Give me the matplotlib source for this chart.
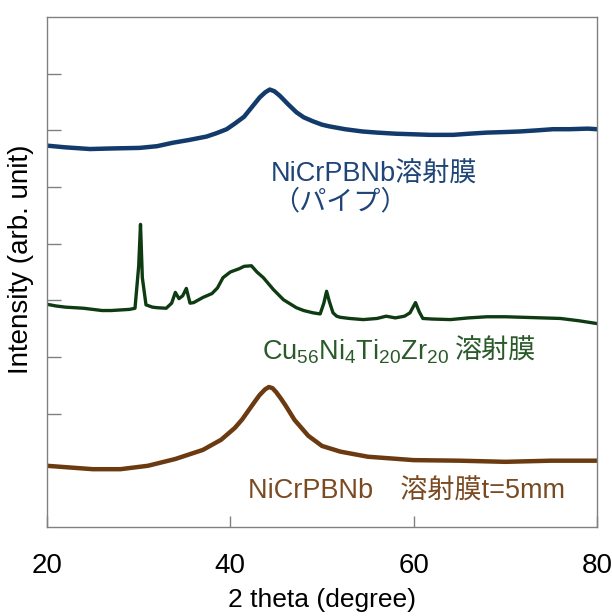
import matplotlib
matplotlib.use("Agg")
import matplotlib.pyplot as plt

plt.rcParams['font.family'] = ['Liberation Sans', 'Noto Sans CJK JP', 'DejaVu Sans']
plt.rcParams['mathtext.fontset'] = 'custom'
plt.rcParams['mathtext.rm'] = 'Liberation Sans'
plt.rcParams['mathtext.default'] = 'regular'

# NiCrPBNb sprayed film (pipe) - top trace
blue_x = [20, 22, 24.7, 27, 30.1, 32, 33.7, 35.5, 37.4, 38.5, 39.6, 40.5, 41.5, 42.3,
          43.2, 43.8, 44.3, 44.8, 45.4, 46.3, 47.2, 48, 49, 50, 50.8, 52.5, 54.4, 56,
          58.1, 60, 61.8, 64.3, 66, 68, 70, 71.6, 73.5, 75.2, 77, 79, 80]
blue_y = [6.73, 6.70, 6.67, 6.68, 6.69, 6.72, 6.78, 6.83, 6.89, 6.95, 7.02, 7.12, 7.24, 7.40,
          7.58, 7.67, 7.72, 7.69, 7.61, 7.46, 7.32, 7.23, 7.16, 7.10, 7.07, 7.02, 6.98, 6.96,
          6.94, 6.93, 6.92, 6.92, 6.94, 6.96, 6.97, 6.98, 7.00, 7.02, 7.02, 7.03, 7.02]

# Cu56Ni4Ti20Zr20 sprayed film - middle trace
green_x = [20, 21, 22, 23, 24, 25, 26, 27, 28, 29, 29.6, 30.0, 30.2, 30.4, 30.8, 31.5, 32,
           33, 33.6, 34.0, 34.4, 34.8, 35.2, 35.6, 36, 37, 38, 38.6, 39.2, 40, 41, 41.5,
           42.3, 42.9, 43.6, 44.7, 45.8, 47.2, 48, 49, 49.8, 50.2, 50.5, 50.8, 51.2, 51.6,
           52, 53, 54.5, 56, 57, 58, 59, 59.6, 60.2, 60.6, 61, 62, 64, 66, 68, 70, 72, 74,
           76, 78, 80]
green_y = [3.93, 3.90, 3.88, 3.87, 3.86, 3.84, 3.82, 3.82, 3.83, 3.84, 3.86, 4.60, 5.34, 4.40,
           3.92, 3.88, 3.87, 3.86, 3.95, 4.14, 4.03, 4.08, 4.21, 3.95, 3.96, 4.05, 4.12, 4.22,
           4.40, 4.50, 4.56, 4.60, 4.61, 4.50, 4.40, 4.19, 4.01, 3.87, 3.82, 3.78, 3.76, 3.95,
           4.16, 3.98, 3.78, 3.72, 3.70, 3.68, 3.66, 3.68, 3.72, 3.69, 3.72, 3.78, 3.96, 3.80,
           3.68, 3.67, 3.66, 3.69, 3.71, 3.71, 3.70, 3.69, 3.68, 3.64, 3.59]

# NiCrPBNb sprayed film t=5mm - bottom trace
brown_x = [20, 25, 28, 31, 34, 37, 39, 40.5, 41.3, 42, 42.7, 43.2, 43.8, 44.2, 44.6, 45,
           45.5, 46, 47, 48.5, 50, 52, 55, 60, 65, 70, 75, 80]
brown_y = [1.08, 1.02, 1.02, 1.08, 1.20, 1.36, 1.54, 1.75, 1.90, 2.06, 2.22, 2.33, 2.43,
           2.47, 2.45, 2.38, 2.27, 2.15, 1.89, 1.61, 1.43, 1.33, 1.24, 1.18, 1.17, 1.15,
           1.17, 1.17]

x_ticks = [20, 40, 60, 80]
y_ticks = [2, 3, 4, 5, 6, 7, 8]

c_blue = '#123a6b'
c_green = '#0e3b12'
c_brown = '#6b3a10'

fig = plt.figure(figsize=(6.12, 6.16), dpi=100)
ax = fig.add_axes([0.0768, 0.1445, 0.8987, 0.8279])

ax.plot(blue_x, blue_y, color=c_blue, lw=3.2, solid_joinstyle='round')
ax.plot(green_x, green_y, color=c_green, lw=2.4, solid_joinstyle='round')
ax.plot(brown_x, brown_y, color=c_brown, lw=3.2, solid_joinstyle='round')

ax.set_xlim(20, 80)
ax.set_ylim(0, 9)
ax.set_xticks(x_ticks)
ax.set_yticks(y_ticks)
ax.set_yticklabels([])
ax.tick_params(axis='x', direction='in', length=8, color='#808080', width=1, labelsize=20, pad=19)
ax.tick_params(axis='y', direction='in', length=10, color='#808080', width=1)
for s in ax.spines.values():
    s.set_color('#808080')
    s.set_linewidth(1)

ax.set_xlabel('2 theta (degree)', fontsize=19, labelpad=6)
ax.set_ylabel('Intensity (arb. unit)', fontsize=20)
ax.yaxis.set_label_coords(-0.024, 0.525)

ax.text(44.4, 6.22, 'NiCrPBNb溶射膜', color='#1f4478', fontsize=19.5, ha='left', va='center')
ax.text(44.6, 5.72, '（パイプ）', color='#1f4478', fontsize=19.5, ha='left', va='center')
t_cu = ax.text(43.45, 3.10, 'Cu$_{56}$Ni$_{4}$Ti$_{20}$Zr$_{20}$', color='#2a5a2a',
               fontsize=19.5, ha='left', va='center')
ax.annotate('溶射膜', xy=(1, 0.5), xycoords=t_cu, xytext=(4, 0), textcoords='offset points',
            color='#2a5a2a', fontsize=19.5, ha='left', va='center')
ax.text(41.9, 0.63, 'NiCrPBNb\u3000溶射膜t=5mm', color='#7a4a22', fontsize=19.5,
        ha='left', va='center')

fig.savefig('out.png', dpi=100)
